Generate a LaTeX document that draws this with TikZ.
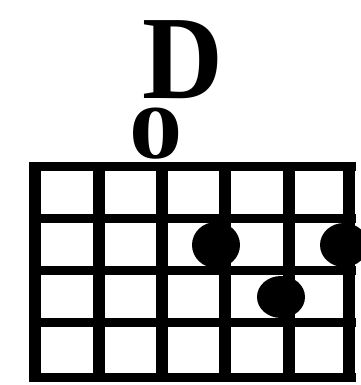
\documentclass[tikz,border=0pt]{standalone}
\usepackage{fontspec}
\setmainfont{Liberation Serif}
\begin{document}
\begin{tikzpicture}[x=1pt,y=-1pt,
  vline/.style={line width=12.5pt},
  hline/.style={line width=9pt},
  dot/.style={fill=black,draw=none},
  lab/.style={inner sep=0pt,anchor=base}]
\useasboundingbox (0,0) rectangle (360,385);
% title and open-string mark
\node[lab,xscale=0.94] (title) at (183,99) {\fontsize{119}{119}\selectfont\textbf{D}};
\node[lab,xscale=1.4] (open) at (156,158) {\fontsize{76}{76}\selectfont\textbf{0}};
% frets (horizontal)
\foreach \y in {166,218,270,322,377} \draw[hline] (30,\y) -- (356,\y);
% strings (vertical)
\foreach \x in {35,99,162,225,289,349} \draw[vline] (\x,162) -- (\x,381.5);
% finger dots
\fill[dot] (216,245) ellipse (24pt and 23pt);
\fill[dot] (281,297) ellipse (24pt and 21pt);
\fill[dot] (344,245) ellipse (24pt and 22pt);
\end{tikzpicture}
\end{document}
